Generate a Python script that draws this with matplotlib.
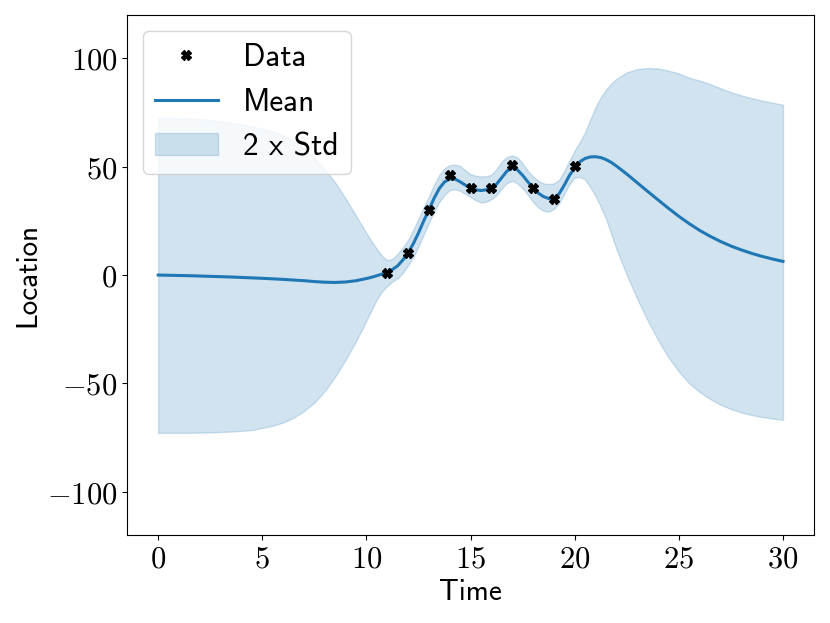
import matplotlib
matplotlib.use("Agg")
import matplotlib.pyplot as plt

# ---- data ----
time = [0, 0.5, 1, 1.5, 2, 2.5, 3, 3.5, 4, 4.5, 5, 5.5, 6, 6.5, 7, 7.5, 8, 8.5, 9, 9.5, 10,
        10.25, 10.5, 10.75, 11, 11.25, 11.5, 11.75, 12, 12.25, 12.5, 12.75, 13, 13.25, 13.5, 13.75,
        14, 14.25, 14.5, 14.75, 15, 15.25, 15.5, 15.75, 16, 16.25, 16.5, 16.75, 17, 17.25, 17.5,
        17.75, 18, 18.25, 18.5, 18.75, 19, 19.25, 19.5, 19.75, 20, 20.25, 20.5, 20.75, 21, 21.25,
        21.5, 21.75, 22, 22.5, 23, 23.5, 24, 24.5, 25, 25.5, 26, 26.5, 27, 27.5, 28, 28.5, 29,
        29.5, 30]

mean = [0, -0.1, -0.2, -0.3, -0.45, -0.6, -0.75, -0.9, -1.1, -1.3, -1.5, -1.75, -2.0, -2.3, -2.6,
        -3.0, -3.3, -3.4, -3.2, -2.6, -1.6,
        -1.0, -0.3, 0.5, 1.3, 2.6, 4.3, 7.0, 10.3, 14.5, 19.5, 25.0, 30.2, 35.5, 40.0, 43.0,
        44.3, 44.3, 43.0, 41.5, 40.2, 39.3, 39.0, 39.3, 40.2, 42.0, 45.0, 48.0, 49.4, 48.5, 46.0,
        43.0, 40.2, 37.8, 36.2, 35.3, 35.5, 37.5, 41.5, 46.0, 49.5, 52.3, 53.8, 54.5, 54.6, 54.2,
        53.3, 52.0, 50.3, 46.6, 42.6, 38.6, 34.7, 30.8, 27.1, 23.7, 20.6, 17.9, 15.5, 13.4, 11.6,
        10.0, 8.6, 7.4, 6.3]

upper = [72.5, 72.5, 72.4, 72.2, 72.0, 71.6, 71.0, 70.3, 69.5, 68.6, 67.5, 66.3, 64.8, 62.0, 58.3,
         54.0, 48.7, 42.6, 35.3, 27.3, 19.3,
         15.5, 12.0, 8.8, 6.8, 7.5, 9.8, 12.8, 16.3, 21.0, 26.0, 31.5, 36.3, 41.8, 46.3, 49.3,
         50.7, 51.0, 50.3, 48.3, 46.5, 45.8, 45.5, 45.6, 46.3, 49.0, 52.5, 54.5, 55.2, 54.3, 51.5,
         48.0, 45.5, 43.5, 42.3, 42.0, 42.3, 44.0, 48.0, 53.0, 57.5, 61.5, 66.0, 71.8, 77.5, 82.0,
         85.5, 88.3, 90.5, 93.5, 95.0, 95.5, 95.3, 94.3, 93.0, 91.0, 89.7, 88.1, 86.2, 84.4, 82.9,
         81.6, 80.5, 79.5, 78.6]

lower = [-72.8, -72.8, -72.8, -72.8, -72.7, -72.6, -72.4, -72.2, -71.9, -71.5, -70.5, -69.5, -68.0,
         -65.8, -62.8, -58.8, -53.5, -46.8, -39.0, -30.5, -21.0,
         -16.0, -11.1, -7.5, -5.0, -3.0, -1.5, 1.0, 4.5, 8.3, 13.3, 18.7, 24.2, 29.3, 33.8, 37.0,
         39.2, 39.6, 38.8, 37.5, 36.0, 34.5, 33.5, 33.8, 35.0, 37.0, 40.0, 42.5, 43.5, 42.3, 40.0,
         37.0, 33.8, 31.2, 29.6, 29.2, 30.5, 33.0, 37.5, 42.0, 45.0, 45.3, 44.0, 40.5, 36.5, 31.5,
         26.0, 19.0, 12.0, 0.0, -11.0, -21.0, -30.0, -38.0, -44.5, -50.0, -54.0, -57.2, -59.8, -61.8,
         -63.4, -64.6, -65.5, -66.2, -66.8]

data_x = [11, 12, 13, 14, 15, 16, 17, 18, 19, 20]
data_y = [1, 10, 30, 46, 40, 40, 51, 40, 35, 50.5]

xticks = [0, 5, 10, 15, 20, 25, 30]
yticks = [-100, -50, 0, 50, 100]

# ---- plot ----
plt.rcParams["mathtext.fontset"] = "cm"
fig, ax = plt.subplots(figsize=(8.3, 6.23), dpi=100)
fig.subplots_adjust(left=0.153, right=0.981, top=0.976, bottom=0.141)

band = ax.fill_between(time, lower, upper, color="C0", alpha=0.2, label="2 x Std")
line, = ax.plot(time, mean, color="C0", lw=2.2, label="Mean")
pts, = ax.plot(data_x, data_y, linestyle="none", marker="X", color="black",
               markersize=6.5, label="Data")

ax.set_xlim(-1.5, 31.5)
ax.set_ylim(-120, 120)
ax.set_xticks(xticks)
ax.set_xticklabels([f"${v}$" for v in xticks])
ax.set_yticks(yticks)
ax.set_yticklabels([f"${v}$" for v in yticks])
ax.tick_params(labelsize=22)

ax.set_xlabel("Time", fontfamily="cmss10", fontsize=21)
ax.set_ylabel("Location", fontfamily="cmss10", fontsize=21)

ax.legend(handles=[pts, line, band], loc="upper left",
          prop={"family": "cmss10", "size": 22.5})

fig.savefig("out.png", dpi=100)
